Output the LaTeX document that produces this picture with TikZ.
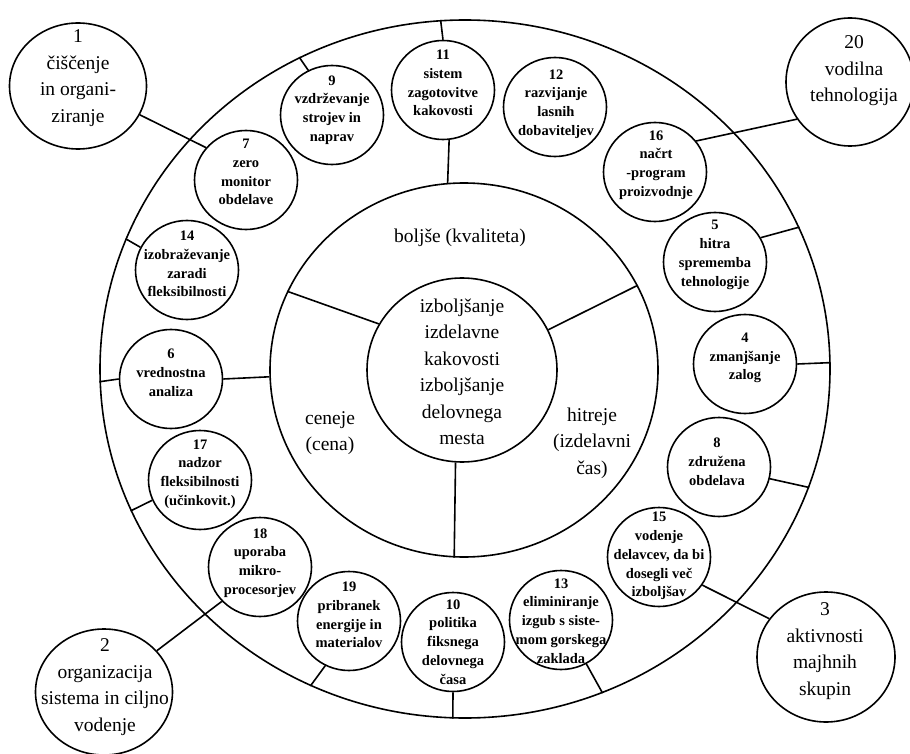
\documentclass[tikz,border=0pt]{standalone}
\usepackage{fontspec}
\setmainfont{Liberation Serif}
\usetikzlibrary{shapes.geometric}
\tikzset{
  ring/.style={draw, ellipse, line width=1.6pt, inner sep=0pt},
  smc/.style={draw, ellipse, line width=1.6pt, minimum width=103pt, minimum height=99pt, inner sep=0pt},
  bigc/.style={draw, ellipse, line width=1.6pt, inner sep=0pt},
  smtext/.style={align=center, font=\fontsize{14.5}{18.8}\selectfont\bfseries, inner sep=0pt},
  bigtext/.style={align=center, font=\fontsize{19.5}{26.5}\selectfont, inner sep=0pt},
  link/.style={line width=1.6pt},
}
\begin{document}
\begin{tikzpicture}[x=1pt,y=-1pt]
\fill[white] (0,0) rectangle (910,754);
\useasboundingbox (0,0) rectangle (910,754);

% rings
\node[ring, minimum width=730pt, minimum height=698pt] (outer) at (465,369) {};
\node[ring, minimum width=388pt, minimum height=374pt] (mid) at (464,370) {};
\node[ring, minimum width=190pt, minimum height=184pt] (inner) at (462,370) {};

% sector lines
\draw[link] (inner.151) -- (mid.156);
\draw[link] (inner.25) -- (mid.26);
\draw[link] (inner.266) -- (mid.267);

% centre and sector texts
\node[bigtext] (coretext) at (462,372) {izboljšanje\\izdelavne\\kakovosti\\izboljšanje\\delovnega\\mesta};
\node[bigtext] (quality) at (460,238) {boljše (kvaliteta)};
\node[bigtext] (price) at (330,433) {ceneje\\(cena)};
\node[bigtext] (speed) at (592,443) {hitreje\\(izdelavni\\čas)};

% big outer circles
\node[bigc, minimum width=137pt, minimum height=126pt] (c1) at (78,86) {};
\node[bigtext] (t1) at (78,78) {1\\čiščenje\\in organi-\\ziranje};
\node[bigc, minimum width=128pt, minimum height=128pt] (c20) at (850,82) {};
\node[bigtext] (t20) at (854,71) {20\\vodilna\\tehnologija};
\node[bigc, minimum width=138pt, minimum height=130pt] (c3) at (826,657) {};
\node[bigtext] (t3) at (825,651) {3\\aktivnosti\\majhnih\\skupin};
\node[bigc, minimum width=137pt, minimum height=126pt] (c2) at (104,692) {};
\node[bigtext] (t2) at (105,687) {2\\organizacija\\sistema in ciljno\\vodenje};

% small circles
\node[smc] (c7) at (246,180) {};
\node[smtext] (t7) at (246,172) {7\\zero\\monitor\\obdelave};
\node[smc] (c9) at (332,115) {};
\node[smtext] (t9) at (332,110) {9\\vzdrževanje\\strojev in\\naprav};
\node[smc] (c11) at (443,90) {};
\node[smtext] (t11) at (443,83) {11\\sistem\\zagotovitve\\kakovosti};
\node[smc] (c12) at (555,107) {};
\node[smtext] (t12) at (556,104) {12\\razvijanje\\lasnih\\dobaviteljev};
\node[smc] (c16) at (655,172) {};
\node[smtext] (t16) at (656,165) {16\\načrt\\-program\\proizvodnje};
\node[smc] (c5) at (715,262) {};
\node[smtext] (t5) at (715,255) {5\\hitra\\sprememba\\tehnologije};
\node[smc] (c4) at (745,364) {};
\node[smtext] (t4) at (745,358) {4\\zmanjšanje\\zalog};
\node[smc] (c8) at (719,467) {};
\node[smtext] (t8) at (717,462) {8\\združena\\obdelava};
\node[smc] (c15) at (659,557) {};
\node[smtext] (t15) at (659,556) {15\\vodenje\\delavcev, da bi\\dosegli več\\izboljšav};
\node[smc] (c13) at (561,620) {};
\node[smtext] (t13) at (561,621) {13\\eliminiranje\\izgub s siste-\\mom gorskega\\zaklada};
\node[smc] (c10) at (453,642) {};
\node[smtext] (t10) at (453,642) {10\\politika\\fiksnega\\delovnega\\časa};
\node[smc] (c19) at (349,621) {};
\node[smtext] (t19) at (349,615) {19\\pribranek\\energije in\\materialov};
\node[smc] (c18) at (260,567) {};
\node[smtext] (t18) at (260,563) {18\\uporaba\\mikro-\\procesorjev};
\node[smc] (c17) at (200,480) {};
\node[smtext] (t17) at (200,474) {17\\nadzor\\fleksibilnosti\\(učinkovit.)};
\node[smc] (c6) at (171,379) {};
\node[smtext] (t6) at (171,373) {6\\vrednostna\\analiza};
\node[smc] (c14) at (187,270) {};
\node[smtext] (t14) at (187,264) {14\\izobraževanje\\zaradi\\fleksibilnosti};

% connectors
\draw[link] (c1.335) -- (c7.141);
\draw[link] (c9.118) -- (outer.118);
\draw[link] (outer.94) -- (c11.north);
\draw[link] (c11.-83) -- (mid.95);
\draw[link] (c20.215) -- (c16.37);
\draw[link] (c5.28) -- (outer.23);
\draw[link] (c4.east) -- (outer.1);
\draw[link] (c8.347) -- (outer.341);
\draw[link] (c15.327) -- (c3.146);
\draw[link] (c13.300) -- (outer.293);
\draw[link] (c10.south) -- (outer.268);
\draw[link] (c19.242) -- (outer.244);
\draw[link] (c18.222) -- (c2.38);
\draw[link] (c17.203) -- (outer.203);
\draw[link] (outer.182) -- (c6.west);
\draw[link] (c6.east) -- (mid.182);
\draw[link] (outer.159) -- (c14.154);
\end{tikzpicture}
\end{document}
